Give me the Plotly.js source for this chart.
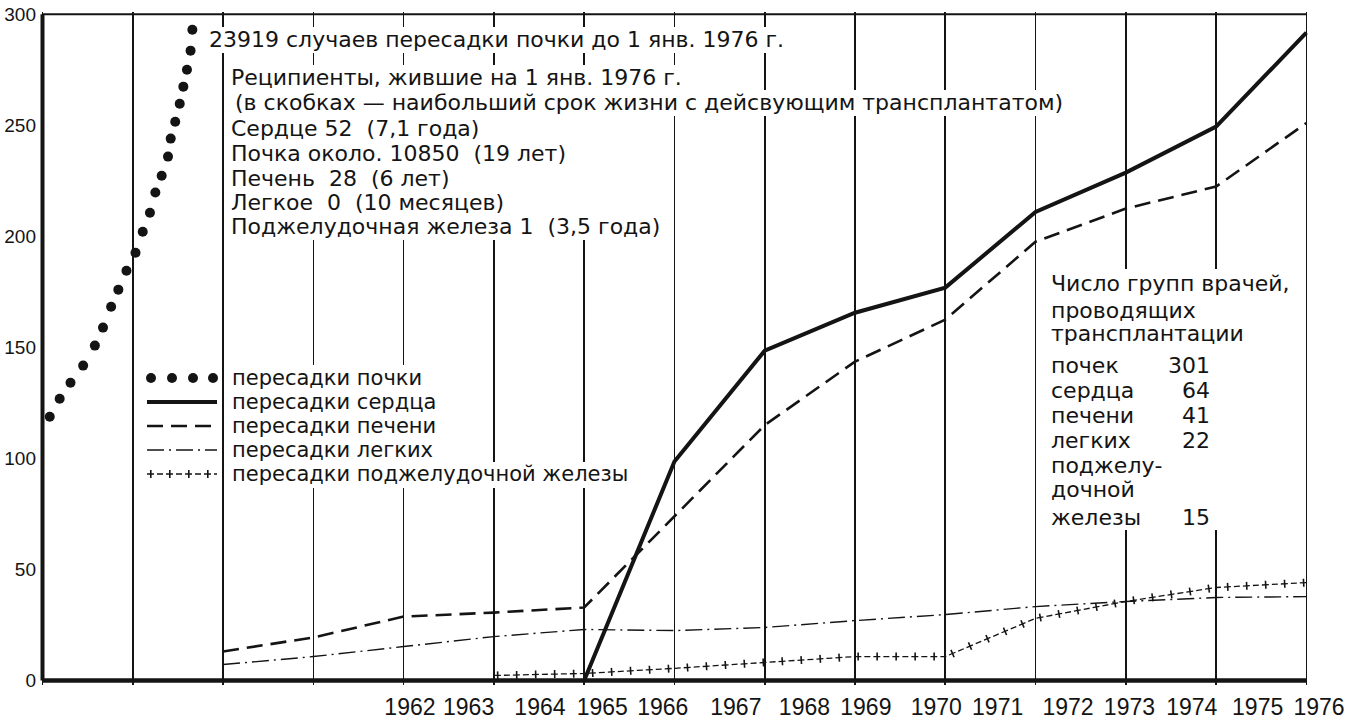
<!DOCTYPE html>
<html><head><meta charset="utf-8">
<script src="https://cdn.plot.ly/plotly-3.0.1.min.js"></script>
<style>
html,body{margin:0;padding:0;background:#fff;overflow:hidden;width:1354px;height:720px}
#chart{position:absolute;left:0;top:0;width:1354px;height:720px}
</style></head><body>
<div id="chart"></div>
<script>
// ---------- data ----------
const gridYears = [1962,1963,1964,1965,1966,1967,1968,1969,1970,1971,1972,1973,1974,1975,1976];
const tickLabels = ['1962','1963','1964','1965','1966','1967','1968','1969','1970','1971','1972','1973','1974','1975','1976'];
const tickPos = [1966.07,1966.72,1967.51,1968.20,1968.87,1969.68,1970.44,1971.12,1971.90,1972.58,1973.36,1974.04,1974.73,1975.46,1976.14];
const yTicks = [0,50,100,150,200,250,300];

const kidneyYears = [1962.08,1962.19,1962.31,1962.45,1962.58,1962.67,1962.76,1962.84,1962.93,1963.03,1963.11,1963.19,1963.25,1963.32,1963.39,1963.42,1963.47,1963.52,1963.56,1963.60,1963.64,1963.66];
const kidneyValues = [118.8,126.9,134.1,141.8,150.8,158.9,168.3,176.0,184.5,192.6,202.1,210.6,219.7,227.3,235.9,244.0,251.6,259.7,267.4,275.0,283.6,293.0];

const heartYears = [1968,1969,1970,1971,1972,1973,1974,1975,1976];
const heartValues = [0,98.6,148.5,165.6,176.9,211,228.7,249.4,291.7];

const liverYears = [1964,1965,1966,1967,1968,1969,1970,1971,1972,1973,1974,1975,1976];
const liverValues = [13.1,19.4,28.8,30.6,32.9,73.8,115,143.6,162.5,197.6,212.5,222.4,251];

const lungYears = [1964,1965,1966,1967,1968,1969,1970,1971,1972,1973,1974,1975,1976];
const lungValues = [7.2,10.8,15.3,19.8,23.0,22.5,23.9,27.0,29.7,33.3,35.6,37.4,37.8];

const pancreasYears = [1967,1968,1969,1970,1971,1972,1973,1974,1975,1976];
const pancreasValues = [2.3,3.2,5.5,8.1,10.8,10.8,28,35.6,41.9,44.1];

const legendLabels = ['пересадки почки','пересадки сердца','пересадки печени','пересадки легких','пересадки поджелудочной железы'];
const infoTitle = '23919 случаев пересадки почки до 1 янв. 1976 г.';
const infoHead = ['Реципиенты, жившие на 1 янв. 1976 г.','(в скобках — наибольший срок жизни с дейсвующим трансплантатом)'];
const infoLines = ['Сердце 52  (7,1 года)','Почка около. 10850  (19 лет)','Печень  28  (6 лет)','Легкое  0  (10 месяцев)','Поджелудочная железа 1  (3,5 года)'];
const teamsHeader = ['Число групп врачей,','проводящих','трансплантации'];
const teamOrgans = ['почек','сердца','печени','легких','поджелу-','дочной','железы'];
const teamCounts = ['301','64','41','22','','','15'];

// ---------- geometry / style ----------
const W = 1354, H = 720;
const M = {l:38, r:7, t:12, b:35};
const PW = W - M.l - M.r, PH = H - M.t - M.b;
const px2x = px => (px - M.l) / PW;
const px2y = py => (H - M.b - py) / PH;
const INK = '#141414';
const TXT = 'DejaVu Sans';
const NUM = 'Liberation Sans';

const S = {
  heart:   {color: INK, width: 4},
  liver:   {color: INK, width: 2.6, dash: '16px,8px'},
  lung:    {color: INK, width: 1.4, dash: '17px,5px,2px,5px'},
  pancThin:{color: INK, width: 1.3, dash: '7px,3px,6px,3px'},
  pancTick:{color: INK, width: 8, dash: '0px,3px,1.6px,14.4px'}
};

// ---------- traces ----------
const traces = [
  {x: kidneyYears, y: kidneyValues, mode: 'markers', marker: {size: 10, color: INK}, hoverinfo: 'skip'},
  {x: heartYears, y: heartValues, mode: 'lines', line: S.heart, hoverinfo: 'skip'},
  {x: liverYears, y: liverValues, mode: 'lines', line: S.liver, hoverinfo: 'skip'},
  {x: lungYears, y: lungValues, mode: 'lines', line: S.lung, hoverinfo: 'skip'},
  {x: pancreasYears, y: pancreasValues, mode: 'lines', line: S.pancThin, hoverinfo: 'skip'},
  {x: pancreasYears, y: pancreasValues, mode: 'lines', line: S.pancTick, hoverinfo: 'skip'}
];

// ---------- shapes: frame, white text panels, legend swatches ----------
const shapes = [
  {type:'line', xref:'x', yref:'y', x0:1962, x1:1962, y0:0, y1:300, line:{color:INK, width:4}},
  {type:'line', xref:'x', yref:'y', x0:1962, x1:1976, y0:0, y1:0, line:{color:INK, width:4.5}},
  {type:'line', xref:'x', yref:'y', x0:1962, x1:1976, y0:300, y1:300, line:{color:INK, width:2}}
];
// white panels behind the text blocks (left, top, right, bottom in px)
const panels = [
  [205, 27, 788, 53],
  [227, 65, 699, 91],
  [230, 90, 1067, 116],
  [227, 115, 664, 240],
  [228, 365, 441, 487],
  [228, 462, 633, 488],
  [1046, 269, 1296, 530]
];
panels.forEach(([l,t,r,b]) => shapes.push({
  type:'rect', xref:'paper', yref:'paper', x0:px2x(l), x1:px2x(r), y0:px2y(b), y1:px2y(t),
  fillcolor:'#ffffff', line:{width:0}, layer:'above'
}));
const legRows = [378, 402, 426, 450, 474];
const swX0 = 147, swX1 = 217;
[151, 172, 193, 213].forEach(cx => shapes.push({
  type:'circle', xref:'paper', yref:'paper', xsizemode:'pixel', ysizemode:'pixel',
  xanchor: px2x(cx), yanchor: px2y(legRows[0]), x0:-5, x1:5, y0:-5, y1:5,
  fillcolor: INK, line:{width:0}
}));
[[1,S.heart],[2,S.liver],[3,S.lung],[4,S.pancThin],[4,S.pancTick]].forEach(([r,st]) => shapes.push({
  type:'line', xref:'paper', yref:'paper', x0:px2x(swX0), x1:px2x(swX1), y0:px2y(legRows[r]), y1:px2y(legRows[r]),
  line: Object.assign({}, st)
}));

// ---------- annotations ----------
function txt(text, px, py, o) {
  return Object.assign({
    xref:'paper', yref:'paper', x:px2x(px), y:px2y(py), xanchor:'left', yanchor:'middle',
    text:text, showarrow:false, align:'left', borderpad:0,
    font:{family:TXT, size:22, color:INK}
  }, o || {});
}
const annotations = [];
annotations.push(txt(infoTitle, 208, 40));
annotations.push(txt(infoHead[0], 230, 78));
annotations.push(txt(infoHead[1], 234, 103));
[128,153,178,202,227].forEach((py,i) => annotations.push(txt(infoLines[i], 230, py)));
legRows.forEach((py,i) => annotations.push(txt(legendLabels[i], 231, py, {font:{family:TXT, size:21, color:INK}})));
[283,310,333].forEach((py,i) => annotations.push(txt(teamsHeader[i], 1050, py)));
const rowY = [365,390,415,440,465,490,517];
rowY.forEach((py,i) => annotations.push(txt(teamOrgans[i], 1050, py)));
rowY.forEach((py,i) => { if (teamCounts[i]) annotations.push(txt(teamCounts[i], 1211, py, {xanchor:'right', align:'right'})); });

const layout = {
  width: W, height: H,
  margin: M,
  paper_bgcolor: '#fff', plot_bgcolor: '#fff',
  showlegend: false,
  xaxis: {
    range: [1961.95, 1976.45], tickmode: 'array', tickvals: tickPos, ticktext: tickLabels,
    tickangle: 0, ticks: '', showgrid: false, zeroline: false, showline: false,
    tickfont: {family: NUM, size: 23, color: INK}, ticklabelstandoff: 6,
    minor: {tickmode: 'array', tickvals: gridYears, showgrid: true, gridcolor: INK, gridwidth: 1.6, ticks: ''},
    automargin: false, fixedrange: true
  },
  yaxis: {
    range: [-2, 301], tickmode: 'array', tickvals: yTicks, ticks: '',
    showgrid: false, zeroline: false, showline: false,
    tickfont: {family: NUM, size: 19, color: INK}, ticklabelstandoff: 1,
    automargin: false, fixedrange: true
  },
  shapes: shapes,
  annotations: annotations
};

Plotly.newPlot('chart', traces, layout, {staticPlot: true, displayModeBar: false});
</script>
</body></html>
